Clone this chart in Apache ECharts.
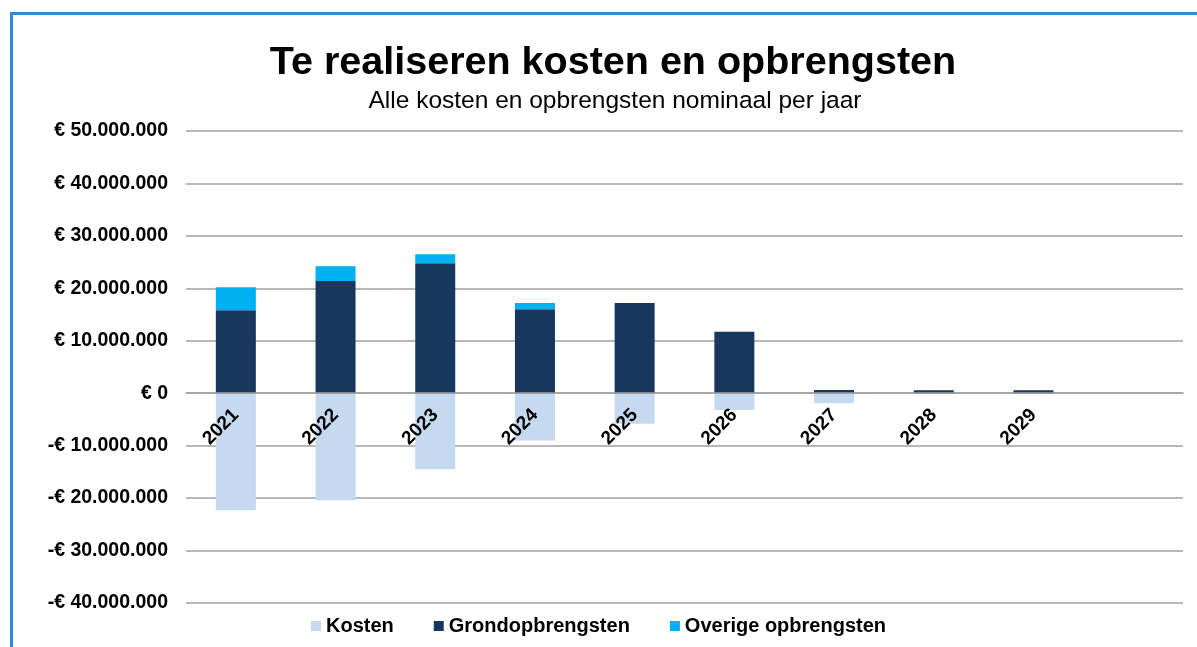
<!DOCTYPE html>
<html>
<head>
<meta charset="utf-8">
<script src="https://cdn.jsdelivr.net/npm/echarts@6/dist/echarts.min.js"></script>
<style>
  html, body { margin: 0; padding: 0; background: #fff; }
  .frame {
    position: absolute; left: 10px; top: 12px; width: 1300px; height: 800px;
    border-left: 3px solid #2f88d8; border-top: 3px solid #2f88d8;
  }
  #chart { position: absolute; left: 0; top: 0; width: 1197px; height: 647px; }
</style>
</head>
<body>
<div class="frame"></div>
<div id="chart"></div>
<script>
// jaren (laatste categorie is leeg)
const years = ['2021', '2022', '2023', '2024', '2025', '2026', '2027', '2028', '2029', ''];
// kosten (negatief), grondopbrengsten en overige opbrengsten in euro
const kosten = [-22300000, -20400000, -14500000, -9000000, -5800000, -3200000, -1900000, 0, 0, null];
const grond = [15800000, 21400000, 24800000, 16000000, 17200000, 11700000, 600000, 550000, 550000, null];
const overige = [4400000, 2800000, 1700000, 1200000, 0, 0, 0, 0, 0, null];

function euro(v) {
  const s = String(Math.abs(v)).replace(/\B(?=(\d{3})+(?!\d))/g, '.');
  return (v < 0 ? '-€ ' : '€ ') + s;
}

const chart = echarts.init(document.getElementById('chart'));
chart.setOption({
  animation: false,
  title: [
    {
      text: 'Te realiseren kosten en opbrengsten',
      left: 608, top: 38, textAlign: 'center',
      textStyle: { fontFamily: 'Liberation Sans, Arial', fontSize: 39.5, fontWeight: 'bold', color: '#000' }
    },
    {
      text: 'Alle kosten en opbrengsten nominaal per jaar',
      left: 610, top: 84, textAlign: 'center',
      textStyle: { fontFamily: 'Liberation Sans, Arial', fontSize: 24.5, fontWeight: 'normal', color: '#000' }
    }
  ],
  legend: {
    bottom: 6, left: 'center',
    icon: 'rect', itemWidth: 10, itemHeight: 10, itemGap: 40,
    textStyle: { fontFamily: 'Liberation Sans, Arial', fontSize: 20, fontWeight: 'bold', color: '#000' },
    data: ['Kosten', 'Grondopbrengsten', 'Overige opbrengsten']
  },
  grid: { left: 186, right: 14, top: 131, bottom: 44 },
  xAxis: {
    type: 'category',
    data: years,
    z: 10,
    offset: -210,
    axisTick: { show: false },
    axisLine: { onZero: false, lineStyle: { color: '#a0a0a0', width: 1.5 } },
    axisLabel: {
      rotate: 45, margin: 19, interval: 0,
      fontFamily: 'Liberation Sans, Arial', fontSize: 19, fontWeight: 'bold', color: '#000'
    }
  },
  yAxis: {
    type: 'value',
    min: -40000000, max: 50000000, interval: 10000000,
    axisLine: { show: false },
    axisTick: { show: false },
    splitLine: { lineStyle: { color: '#a0a0a0', width: 1.5 } },
    axisLabel: {
      margin: 18, formatter: euro,
      fontFamily: 'Liberation Sans, Arial', fontSize: 19.5, fontWeight: 'bold', color: '#000'
    }
  },
  series: [
    { name: 'Kosten', type: 'bar', stack: 'a', barWidth: 40, data: kosten, itemStyle: { color: '#c5d9f1' } },
    { name: 'Grondopbrengsten', type: 'bar', stack: 'a', barWidth: 40, data: grond, itemStyle: { color: '#17375e' } },
    { name: 'Overige opbrengsten', type: 'bar', stack: 'a', barWidth: 40, data: overige, itemStyle: { color: '#00b0f0' } }
  ]
});
</script>
</body>
</html>
